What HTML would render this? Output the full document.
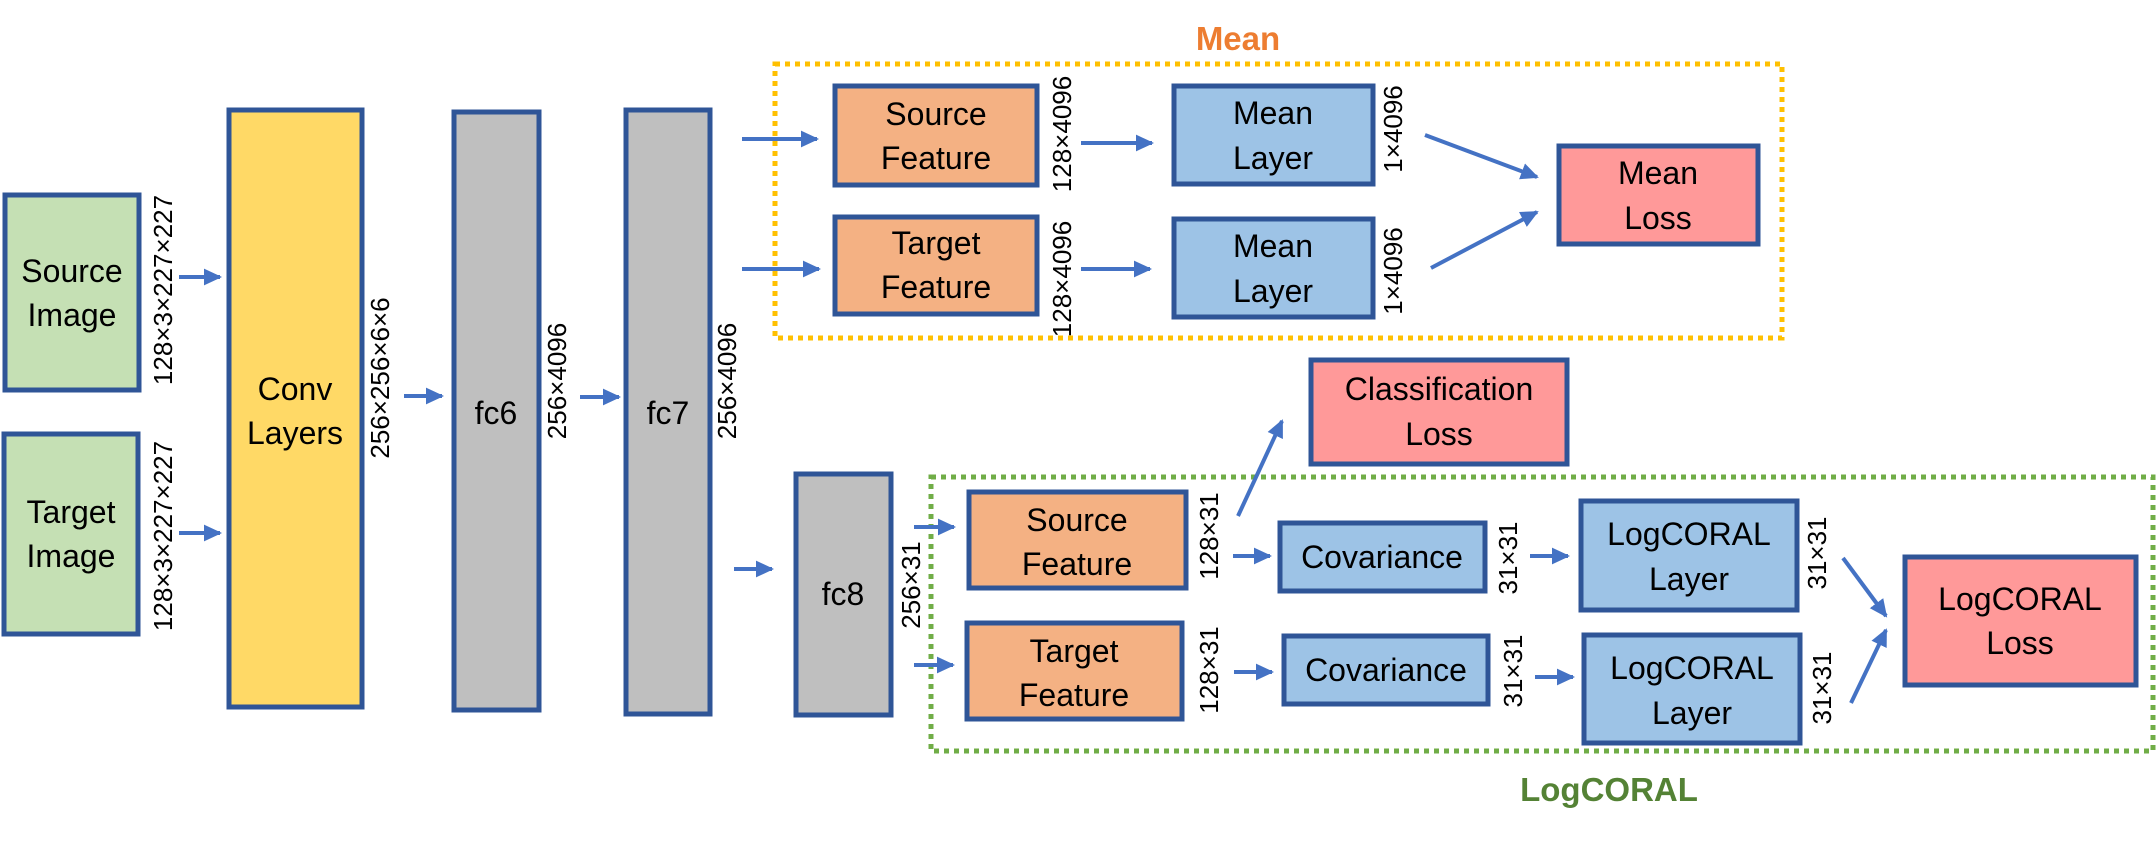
<!DOCTYPE html>
<html><head><meta charset="utf-8"><style>
html,body{margin:0;padding:0;background:#fff}
svg{display:block}
text{font-family:"Liberation Sans",sans-serif}
.b{font-size:32px;text-anchor:middle;fill:#000}
.r{font-size:26px;text-anchor:middle;fill:#000}
</style></head><body>
<svg width="2156" height="841" viewBox="0 0 2156 841" xmlns="http://www.w3.org/2000/svg">
<defs>
<marker id="a" markerWidth="5" markerHeight="5" refX="4" refY="2.5" orient="auto" markerUnits="strokeWidth">
<path d="M0,0.4 L4.5,2.5 L0,4.6 Z" fill="#4472C4"/></marker>
</defs>
<g stroke="#2F5597" stroke-width="5">
<rect x="5" y="195" width="134" height="195" fill="#C5E0B4"/>
<rect x="4" y="434" width="134" height="200" fill="#C5E0B4"/>
<rect x="229" y="110" width="133" height="597" fill="#FFD966"/>
<rect x="454" y="112" width="85" height="598" fill="#BFBFBF"/>
<rect x="626" y="110" width="84" height="604" fill="#BFBFBF"/>
<rect x="796" y="474" width="95" height="241" fill="#BFBFBF"/>
<rect x="835" y="86" width="202" height="99" fill="#F4B183"/>
<rect x="835" y="217" width="202" height="97" fill="#F4B183"/>
<rect x="969" y="492" width="217" height="96" fill="#F4B183"/>
<rect x="967" y="623" width="215" height="96" fill="#F4B183"/>
<rect x="1174" y="86" width="199" height="98" fill="#9DC3E6"/>
<rect x="1174" y="219" width="199" height="98" fill="#9DC3E6"/>
<rect x="1559" y="146" width="199" height="98" fill="#FF9999"/>
<rect x="1311" y="360" width="256" height="104" fill="#FF9999"/>
<rect x="1280" y="523" width="205" height="68" fill="#9DC3E6"/>
<rect x="1284" y="636" width="204" height="68" fill="#9DC3E6"/>
<rect x="1581" y="501" width="216" height="109" fill="#9DC3E6"/>
<rect x="1584" y="635" width="216" height="108" fill="#9DC3E6"/>
<rect x="1905" y="557" width="231" height="128" fill="#FF9999"/>
</g>
<rect x="775" y="64" width="1007" height="274" fill="none" stroke="#FFC000" stroke-width="5" stroke-dasharray="5,5"/>
<rect x="931" y="477" width="1222" height="274" fill="none" stroke="#70AD47" stroke-width="5" stroke-dasharray="5,5"/>
<g stroke="#4472C4" stroke-width="4" marker-end="url(#a)" fill="none">
<line x1="179" y1="277" x2="220" y2="277"/>
<line x1="179" y1="533" x2="220" y2="533"/>
<line x1="404" y1="396" x2="442" y2="396"/>
<line x1="580" y1="397" x2="619" y2="397"/>
<line x1="742" y1="139" x2="817" y2="139"/>
<line x1="742" y1="269" x2="819" y2="269"/>
<line x1="734" y1="569" x2="772" y2="569"/>
<line x1="914" y1="527" x2="954" y2="527"/>
<line x1="914" y1="665" x2="953" y2="665"/>
<line x1="1081" y1="143" x2="1152" y2="143"/>
<line x1="1081" y1="269" x2="1150" y2="269"/>
<line x1="1425" y1="135" x2="1537" y2="177"/>
<line x1="1431" y1="268" x2="1537" y2="212"/>
<line x1="1238" y1="516" x2="1282" y2="421"/>
<line x1="1233" y1="556" x2="1270" y2="556"/>
<line x1="1234" y1="672" x2="1272" y2="672"/>
<line x1="1530" y1="556" x2="1568" y2="556"/>
<line x1="1535" y1="677" x2="1573" y2="677"/>
<line x1="1843" y1="558" x2="1886" y2="616"/>
<line x1="1851" y1="703" x2="1886" y2="630"/>
</g>
<g class="b">
<text x="72" y="282">Source</text><text x="72" y="326">Image</text>
<text x="71" y="523">Target</text><text x="71" y="567">Image</text>
<text x="295" y="400">Conv</text><text x="295" y="444">Layers</text>
<text x="496" y="424">fc6</text>
<text x="668" y="424">fc7</text>
<text x="843" y="605">fc8</text>
<text x="936" y="125">Source</text><text x="936" y="169">Feature</text>
<text x="936" y="254">Target</text><text x="936" y="298">Feature</text>
<text x="1077" y="531">Source</text><text x="1077" y="575">Feature</text>
<text x="1074" y="662">Target</text><text x="1074" y="706">Feature</text>
<text x="1273" y="124">Mean</text><text x="1273" y="169">Layer</text>
<text x="1273" y="257">Mean</text><text x="1273" y="302">Layer</text>
<text x="1658" y="184">Mean</text><text x="1658" y="229">Loss</text>
<text x="1439" y="400">Classification</text><text x="1439" y="445">Loss</text>
<text x="1382" y="568">Covariance</text>
<text x="1386" y="681">Covariance</text>
<text x="1689" y="545">LogCORAL</text><text x="1689" y="590">Layer</text>
<text x="1692" y="679">LogCORAL</text><text x="1692" y="724">Layer</text>
<text x="2020" y="610">LogCORAL</text><text x="2020" y="654">Loss</text>
</g>
<text x="1238" y="50" style="font-size:33px;font-weight:bold;fill:#ED7D31;text-anchor:middle">Mean</text>
<text x="1609" y="801" style="font-size:33px;font-weight:bold;fill:#548235;text-anchor:middle">LogCORAL</text>
<g class="r">
<text transform="translate(172,290) rotate(-90)">128×3×227×227</text>
<text transform="translate(172,536) rotate(-90)">128×3×227×227</text>
<text transform="translate(389,378) rotate(-90)">256×256×6×6</text>
<text transform="translate(566,381) rotate(-90)">256×4096</text>
<text transform="translate(736,381) rotate(-90)">256×4096</text>
<text transform="translate(920,585) rotate(-90)">256×31</text>
<text transform="translate(1071,134) rotate(-90)">128×4096</text>
<text transform="translate(1071,279) rotate(-90)">128×4096</text>
<text transform="translate(1402,129) rotate(-90)">1×4096</text>
<text transform="translate(1402,271) rotate(-90)">1×4096</text>
<text transform="translate(1218,536) rotate(-90)">128×31</text>
<text transform="translate(1218,670) rotate(-90)">128×31</text>
<text transform="translate(1517,558) rotate(-90)">31×31</text>
<text transform="translate(1522,671) rotate(-90)">31×31</text>
<text transform="translate(1826,553) rotate(-90)">31×31</text>
<text transform="translate(1831,688) rotate(-90)">31×31</text>
</g>
</svg>
</body></html>
